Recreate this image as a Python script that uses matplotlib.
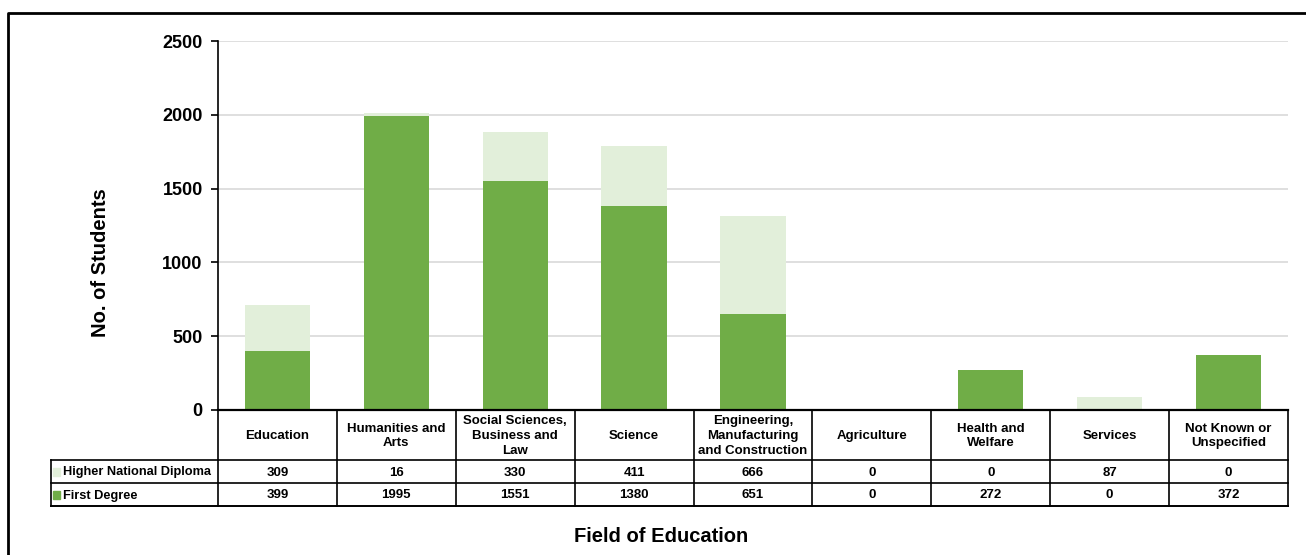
import matplotlib.pyplot as plt
from matplotlib.lines import Line2D
from matplotlib.patches import Rectangle

plt.rcParams['font.family'] = ['Liberation Sans', 'DejaVu Sans']
plt.rcParams['font.weight'] = 'bold'

categories = ['Education', 'Humanities and\nArts', 'Social Sciences,\nBusiness and\nLaw', 'Science',
              'Engineering,\nManufacturing\nand Construction', 'Agriculture', 'Health and\nWelfare',
              'Services', 'Not Known or\nUnspecified']
first_degree = [399, 1995, 1551, 1380, 651, 0, 272, 0, 372]
hnd = [309, 16, 330, 411, 666, 0, 0, 87, 0]
series_names = ['Higher National Diploma', 'First Degree']
dark_green = '#70AD47'
light_green = '#E2EFDA'

W, H = 1306, 555
fig = plt.figure(figsize=(W / 100, H / 100), dpi=100)


def fx(x):
    return x / W


def fy(y):
    return 1 - y / H


ax_l, ax_r, ax_t, ax_b = 218, 1288, 41, 410
ax = fig.add_axes([fx(ax_l), fy(ax_b), fx(ax_r - ax_l), (ax_b - ax_t) / H])

n = len(categories)
xs = list(range(n))
ax.bar(xs, first_degree, width=0.55, color=dark_green, zorder=2)
ax.bar(xs, hnd, width=0.55, bottom=first_degree, color=light_green, zorder=2)
ax.set_xlim(-0.5, n - 0.5)
ax.set_ylim(0, 2500)
ax.set_yticks(range(0, 2501, 500))
ax.tick_params(axis='y', labelsize=13, length=5, width=1.2, pad=6)
ax.set_xticks([])
ax.yaxis.grid(True, color='#d9d9d9', lw=1.2, zorder=0)
for s in ['top', 'right']:
    ax.spines[s].set_visible(False)
ax.spines['left'].set_linewidth(1.2)
ax.spines['bottom'].set_linewidth(1.6)
fig.text(fx(101), fy(263), 'No. of Students', rotation=90, ha='center', va='center',
         fontsize=14.5, fontweight='bold')

# data table under the chart
col_w = (ax_r - ax_l) / n
y_head, y_r1, y_r2, y_r3 = 410, 460, 483, 506
leg_l = 51


def hline(x0, x1, y, lw=1.2):
    fig.add_artist(Line2D([fx(x0), fx(x1)], [fy(y), fy(y)], color='black', lw=lw))


def vline(x, y0, y1, lw=1.2):
    fig.add_artist(Line2D([fx(x), fx(x)], [fy(y0), fy(y1)], color='black', lw=lw))


hline(ax_l, ax_r, y_head)
hline(leg_l, ax_r, y_r1)
hline(leg_l, ax_r, y_r2)
hline(leg_l, ax_r, y_r3, lw=1.4)
vline(leg_l, y_r1, y_r3)
for i in range(n + 1):
    vline(ax_l + i * col_w, y_head, y_r3)

for i, cat in enumerate(categories):
    cx = ax_l + (i + 0.5) * col_w
    fig.text(fx(cx), fy((y_head + y_r1) / 2 + 1), cat, ha='center', va='center',
             fontsize=9.5, fontweight='bold', linespacing=1.3)
    fig.text(fx(cx), fy((y_r1 + y_r2) / 2 + 1), str(hnd[i]), ha='center', va='center',
             fontsize=9.5, fontweight='bold')
    fig.text(fx(cx), fy((y_r2 + y_r3) / 2 + 1), str(first_degree[i]), ha='center', va='center',
             fontsize=9.5, fontweight='bold')

for name, col, (ya, yb) in zip(series_names, [light_green, dark_green], [(y_r1, y_r2), (y_r2, y_r3)]):
    yc = (ya + yb) / 2
    fig.add_artist(Rectangle((fx(53), fy(yc + 4)), fx(7), 8 / H, color=col))
    fig.text(fx(63), fy(yc + 1), name, ha='left', va='center', fontsize=9.2, fontweight='bold')

fig.text(fx(661), fy(536), 'Field of Education', ha='center', va='center',
         fontsize=14.5, fontweight='bold')

# outer frame
fig.add_artist(Line2D([fx(8), fx(8), fx(W + 5)], [fy(H + 5), fy(13), fy(13)], color='black', lw=2))

fig.savefig('out.png', dpi=100)
